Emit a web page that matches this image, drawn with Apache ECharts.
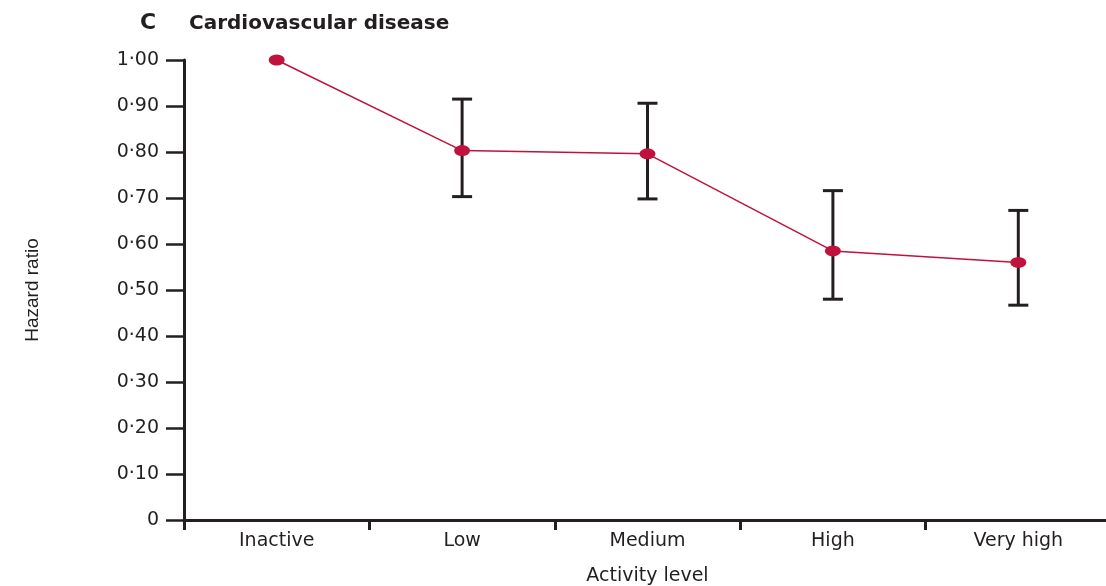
<!DOCTYPE html>
<html>
<head>
<meta charset="utf-8">
<script src="https://cdn.jsdelivr.net/npm/echarts@6/dist/echarts.min.js"></script>
<style>
  html, body { margin: 0; padding: 0; background: #fff; }
  #chart { width: 1106px; height: 586px; }
</style>
</head>
<body>
<div id="chart"></div>
<script>
// activity levels and hazard ratios (with 95% CI)
const categories = ['Inactive', 'Low', 'Medium', 'High', 'Very high']
const hazardRatio = [1.00, 0.803, 0.796, 0.585, 0.560]
const ciLower = [null, 0.703, 0.698, 0.480, 0.467]
const ciUpper = [null, 0.915, 0.906, 0.716, 0.673]

const inkColor = '#231f20'
const lineColor = '#c0123c'
const labelFont = 'DejaVu Sans'

const errorData = []
categories.forEach((c, i) => {
  if (ciLower[i] !== null) {
    errorData.push([i, ciLower[i], ciUpper[i]])
  }
})

function renderErrorBar(params, api) {
  const top = api.coord([api.value(0), api.value(2)])
  const bot = api.coord([api.value(0), api.value(1)])
  const hw = 10
  const style = { stroke: inkColor, lineWidth: 3 }
  return {
    type: 'group',
    children: [
      { type: 'line', shape: { x1: top[0], y1: top[1], x2: bot[0], y2: bot[1] }, style: style },
      { type: 'line', shape: { x1: top[0] - hw, y1: top[1], x2: top[0] + hw, y2: top[1] }, style: style },
      { type: 'line', shape: { x1: bot[0] - hw, y1: bot[1], x2: bot[0] + hw, y2: bot[1] }, style: style }
    ]
  }
}

const chart = echarts.init(document.getElementById('chart'))
chart.setOption({
  animation: false,
  title: [
    {
      text: 'C',
      left: 135,
      top: 7,
      textStyle: { fontFamily: 'DejaVu Sans', fontWeight: 'bold', fontSize: 22, color: inkColor }
    },
    {
      text: 'Cardiovascular disease',
      left: 184,
      top: 9,
      textStyle: { fontFamily: 'DejaVu Sans', fontWeight: 'bold', fontSize: 20, color: inkColor }
    }
  ],
  grid: {
    left: 184,
    top: 60,
    width: 927,
    bottom: 66,
    outerBoundsMode: 'none',
    containLabel: false
  },
  xAxis: {
    type: 'category',
    data: categories,
    boundaryGap: true,
    name: 'Activity level',
    nameLocation: 'middle',
    nameGap: 47,
    nameTextStyle: { fontFamily: labelFont, fontSize: 19, color: inkColor },
    axisLine: { lineStyle: { color: inkColor, width: 3 } },
    axisTick: { show: true, length: 10, lineStyle: { color: inkColor, width: 3 } },
    axisLabel: { fontFamily: labelFont, fontSize: 19, color: inkColor, margin: 12 }
  },
  yAxis: {
    type: 'value',
    min: 0,
    max: 1,
    interval: 0.1,
    name: 'Hazard ratio',
    nameLocation: 'middle',
    nameGap: 142,
    nameTextStyle: { fontFamily: 'Liberation Sans Narrow, Liberation Sans, sans-serif', fontSize: 19, color: inkColor },
    axisLine: { show: true, lineStyle: { color: inkColor, width: 3 } },
    axisTick: { show: true, length: 18, lineStyle: { color: inkColor, width: 2.5 } },
    splitLine: { show: false },
    axisLabel: {
      fontFamily: labelFont,
      fontSize: 19,
      color: inkColor,
      margin: 25,
      formatter: v => (v === 0 ? '0' : v.toFixed(2).replace('.', '·'))
    }
  },
  series: [
    {
      type: 'custom',
      name: 'CI',
      renderItem: renderErrorBar,
      data: errorData,
      z: 2
    },
    {
      type: 'line',
      name: 'Hazard ratio',
      data: hazardRatio,
      symbol: 'circle',
      symbolSize: [16, 11],
      lineStyle: { color: lineColor, width: 1.5 },
      itemStyle: { color: lineColor },
      z: 3
    }
  ]
})
</script>
</body>
</html>
